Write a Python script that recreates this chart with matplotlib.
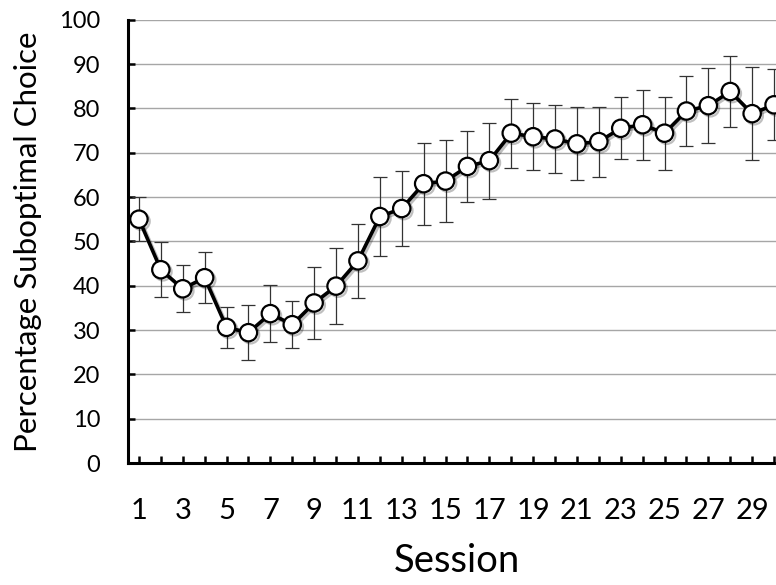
import numpy as np
import matplotlib
matplotlib.use("Agg")
import matplotlib.pyplot as plt
import matplotlib.patheffects as pe

# mean percentage of suboptimal choices per session, with error bar half-widths
sessions = np.arange(1, 31)
pct_subopt = [55.0, 43.6, 39.3, 41.8, 30.6, 29.4, 33.7, 31.2, 36.1, 39.9,
              45.6, 55.6, 57.4, 63.0, 63.6, 66.9, 68.2, 74.4, 73.6, 73.1,
              72.0, 72.5, 75.5, 76.3, 74.4, 79.4, 80.6, 83.8, 78.8, 80.8]
err = [5.0, 6.2, 5.3, 5.7, 4.6, 6.2, 6.4, 5.3, 8.2, 8.6,
       8.4, 8.9, 8.5, 9.2, 9.2, 8.1, 8.6, 7.8, 7.6, 7.7,
       8.2, 7.9, 7.0, 7.9, 8.2, 8.0, 8.4, 8.0, 10.5, 8.0]

plt.rcParams['font.family'] = ['Lato', 'DejaVu Sans']

fig = plt.figure(figsize=(7.76, 5.85), dpi=100)
ax = fig.add_axes([128/776, 122/585, 657/776, 443.3/585])

ax.errorbar(sessions, pct_subopt, yerr=err, fmt='none', ecolor='#333333',
            elinewidth=0.9, capsize=5, capthick=0.9, zorder=2)
ax.plot(sessions, pct_subopt, color='black', lw=2.6, marker='o', ms=12.5,
        mfc='white', mec='black', mew=1.6, zorder=3,
        path_effects=[pe.SimpleLineShadow(offset=(1.5, -1.5), alpha=0.25), pe.Normal()])

ax.set_xlim(0.5, 30.5)
ax.set_ylim(0, 100)
ax.set_yticks(np.arange(0, 101, 10))
ax.set_xticks(sessions)
# label every other session
ax.set_xticklabels([str(s) if s % 2 == 1 else '' for s in sessions])
ax.yaxis.grid(True, color='#a6a6a6', lw=1)
ax.set_axisbelow(True)

for side in ['top', 'right']:
    ax.spines[side].set_visible(False)
for side in ['left', 'bottom']:
    ax.spines[side].set_linewidth(2.2)

ax.tick_params(axis='x', direction='in', length=5, width=1.8, pad=25, labelsize=21)
ax.tick_params(axis='y', direction='in', length=5, width=1.8, pad=20, labelsize=17)

ax.set_xlabel('Session', fontsize=27.5, labelpad=14)
ax.set_ylabel('Percentage Suboptimal Choice', fontsize=22.5, labelpad=12)

fig.savefig('out.png', dpi=100)
